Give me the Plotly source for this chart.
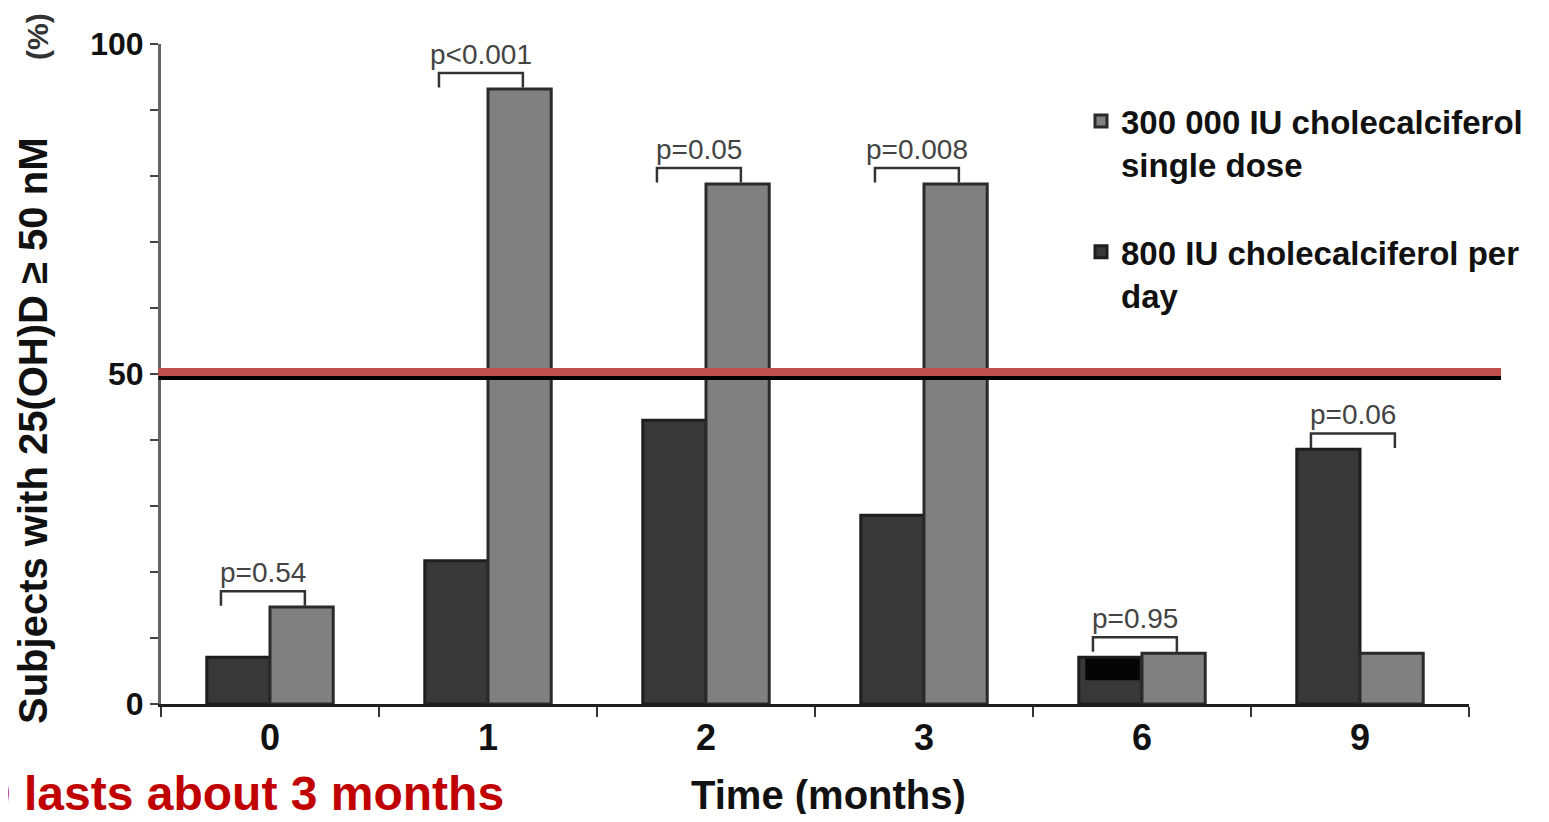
import plotly.graph_objects as go

months = ["0", "1", "2", "3", "6", "9"]
daily_800 = [7.1, 21.7, 43.0, 28.6, 7.1, 38.6]
single_300k = [14.7, 93.2, 78.8, 78.8, 7.7, 7.7]
p_values = ["p=0.54", "p<0.001", "p=0.05", "p=0.008", "p=0.95", "p=0.06"]
y_ticks = list(range(0, 101, 10))
y_tick_labels = ["0", "", "", "", "", "50", "", "", "", "", "100"]
threshold = 50

ARIAL = "Liberation Sans, Arial, sans-serif"

# page body has an 8px margin; figure is sized to fit inside the window
L, T, PW, PH = 153, 36, 1308, 660
W, H = 1533, 806

def px_x(px):  # page pixel -> paper fraction
    return (px - 8 - L) / PW

def px_y(py):
    return (T + PH - (py - 8)) / PH

fig = go.Figure()
fig.add_trace(go.Bar(
    x=months, y=daily_800, name="800 IU cholecalciferol per<br>day",
    marker=dict(color="#383838", line=dict(color="#1e1e1e", width=3)),
    legendrank=2, legendgroup="b",
))
fig.add_trace(go.Bar(
    x=months, y=single_300k, name="300 000 IU cholecalciferol<br>single dose",
    marker=dict(color="#808080", line=dict(color="#2a2a2a", width=3)),
    legendrank=1, legendgroup="a",
))

shapes = []
annotations = []
# dark artifact block at top of month-6 daily bar
shapes.append(dict(type="rect", xref="x", yref="y", x0=4 - 0.26, x1=4 - 0.01,
                   y0=3.6, y1=daily_800[4] - 0.2, fillcolor="#050505",
                   line=dict(width=0), layer="above"))
# threshold lines
shapes.append(dict(type="line", xref="paper", yref="y", x0=-0.002, x1=px_x(1501),
                   y0=threshold - 0.6, y1=threshold - 0.6,
                   line=dict(color="#000000", width=4), layer="above"))
shapes.append(dict(type="line", xref="paper", yref="y", x0=-0.002, x1=px_x(1501),
                   y0=threshold + 0.3, y1=threshold + 0.3,
                   line=dict(color="#C0504D", width=8), layer="above"))

# p-value brackets
for i, (a, b, p) in enumerate(zip(daily_800, single_300k, p_values)):
    top = max(a, b) + 2.4
    bot = top - 2.2
    xl, xr = i - 0.225, i + 0.16
    shapes.append(dict(type="path", xref="x", yref="y",
                       path=f"M {xl},{bot} L {xl},{top} L {xr},{top} L {xr},{bot}",
                       line=dict(color="#333333", width=2.5)))
    annotations.append(dict(x=i - 0.03, y=top + 0.2, xref="x", yref="y", text=p,
                            showarrow=False, yanchor="bottom",
                            font=dict(family=ARIAL, size=28, color="#444444")))

annotations += [
    dict(text="Subjects with 25(OH)D ≥ 50 nM", textangle=-90,
         xref="paper", yref="paper", x=px_x(33), y=px_y(431),
         xanchor="center", yanchor="middle", showarrow=False,
         font=dict(family=ARIAL, size=40, color="#111111", weight="bold")),
    dict(text="(%)", textangle=-90, xref="paper", yref="paper",
         x=px_x(37), y=px_y(37), xanchor="center", yanchor="middle", showarrow=False,
         font=dict(family=ARIAL, size=30, color="#333333", weight="bold")),
    dict(text="Time (months)", xref="paper", yref="paper",
         x=px_x(828), y=px_y(795), xanchor="center", yanchor="middle", showarrow=False,
         font=dict(family=ARIAL, size=40, color="#111111", weight="bold")),
    dict(text="0 lasts about 3 months", xref="paper", yref="paper",
         x=px_x(-18), xanchor="left", y=px_y(793), yanchor="middle", showarrow=False,
         font=dict(family=ARIAL, size=48, color="#C00000", weight="bold")),
]

fig.update_layout(
    width=W, height=H,
    margin=dict(l=L, r=W - L - PW, t=T, b=H - T - PH),
    plot_bgcolor="white", paper_bgcolor="white",
    barmode="group", bargap=0.42, bargroupgap=0,
    shapes=shapes, annotations=annotations,
    legend=dict(x=px_x(1081), y=px_y(93), xanchor="left", yanchor="top",
                valign="top", tracegroupgap=42, traceorder="grouped",
                font=dict(family=ARIAL, size=33, color="#111111", weight="bold"),
                bgcolor="rgba(0,0,0,0)"),
    xaxis=dict(type="category", categoryorder="array", categoryarray=months,
               range=[-0.5, 5.5], showline=True, linecolor="#1e1e1e", linewidth=3,
               ticks="outside", tickson="boundaries", ticklen=10, tickwidth=2,
               tickcolor="#333333", showgrid=False, zeroline=False,
               tickfont=dict(family=ARIAL, size=36, color="#111111", weight="bold")),
    yaxis=dict(range=[0, 100], tickvals=y_ticks, ticktext=y_tick_labels,
               showline=True, linecolor="#666666", linewidth=3,
               ticks="outside", ticklen=8, tickwidth=2, tickcolor="#444444",
               showgrid=False, zeroline=False,
               tickfont=dict(family=ARIAL, size=32, color="#111111", weight="bold")),
)

fig.write_html("out.html")
